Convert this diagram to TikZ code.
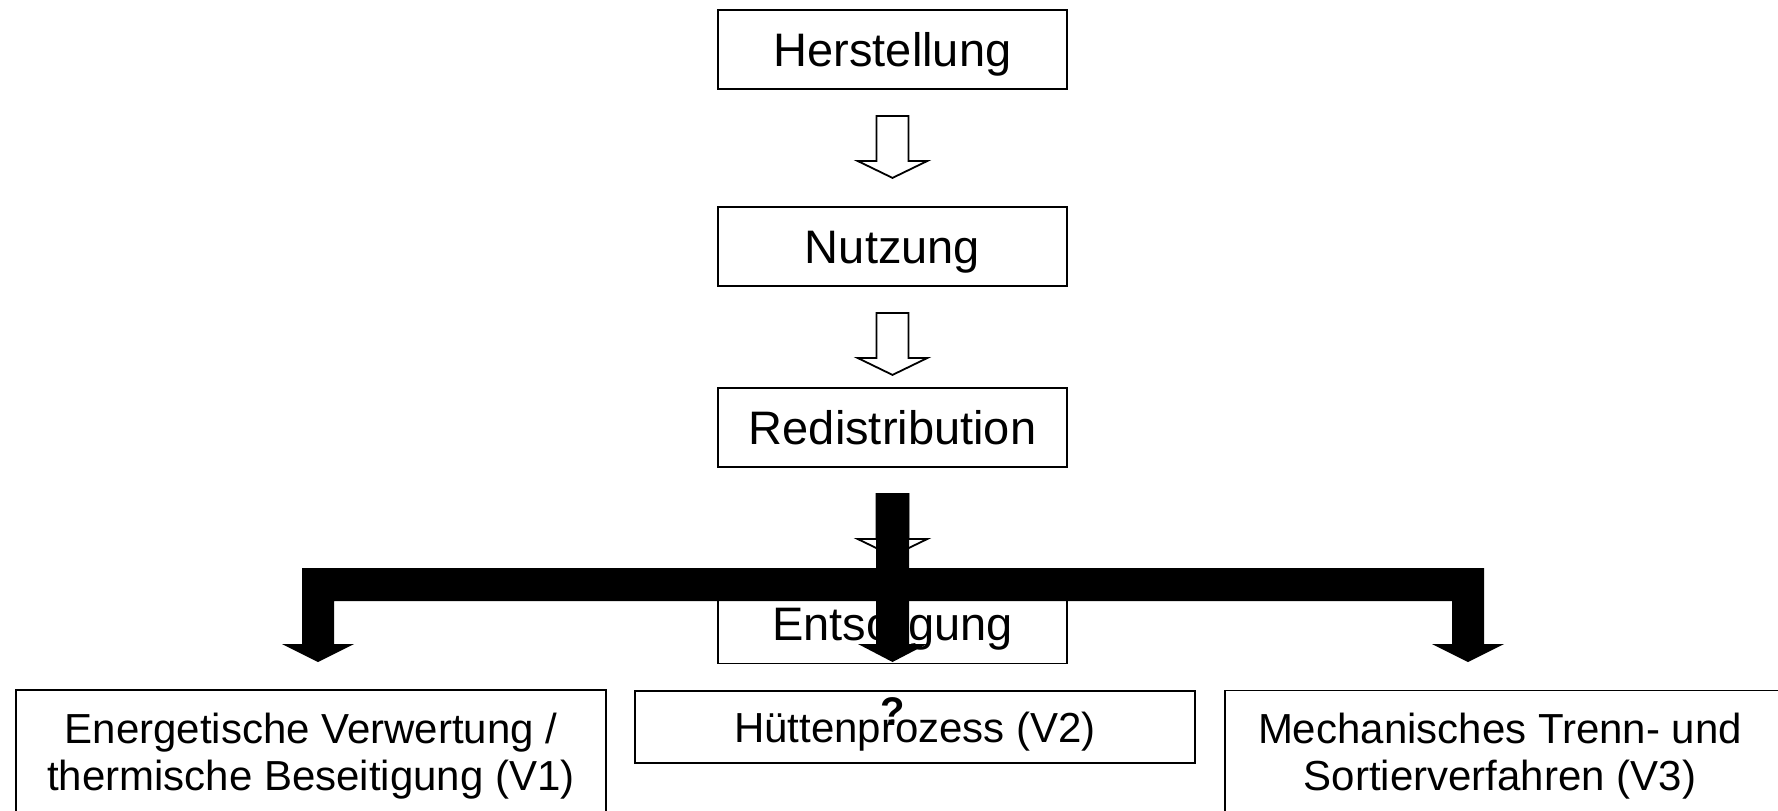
\documentclass[tikz,border=0pt]{standalone}
\usepackage{fontspec}
\setmainfont{Liberation Sans}
\usetikzlibrary{calc}
\tikzset{
  topbox/.style={draw, line width=0.9pt, fill=white, minimum width=174.5pt, minimum height=39.5pt,
    inner sep=0pt, text height=16.8pt, text depth=0pt, font=\fontsize{23.5pt}{28pt}\selectfont},
  plainbox/.style={draw, line width=0.9pt, fill=white, inner sep=0pt},
  bottext/.style={anchor=base, inner sep=0pt, font=\fontsize{21pt}{25pt}\selectfont},
  hollow/.style={draw, line width=0.9pt, fill=white, line join=miter},
  solidarrow/.style={fill=black, draw=none},
}
\newcommand\hollowdown[1]{%
  \draw[hollow] ($(#1.south)+(-16,26)$) -- ++(32,0) -- ++(0,45) -- ++(19,0)
    -- ++(-35,17) -- ++(-35,-17) -- ++(19,0) -- cycle;}
\begin{document}
\begin{tikzpicture}[x=0.5pt, y=-0.5pt]
\useasboundingbox (0,0) rectangle (1778,810);
\clip (0,0) rectangle (1778,810);

% top chain
\node[topbox] (her) at (892.5,49.5) {Herstellung};
\node[topbox] (nut) at (892.5,246.5) {Nutzung};
\node[topbox] (red) at (892.5,427.5) {Redistribution};
\node[topbox] (ent) at (892.5,624) {Entsorgung};

% bottom boxes
\node[plainbox, minimum width=295pt, minimum height=70pt] (v1) at (311,760) {};
\node[bottext] (v1a) at (311,743) {Energetische Verwertung /};
\node[bottext] (v1b) at (311,790) {thermische Beseitigung (V1)};

\node[plainbox, minimum width=280pt, minimum height=36pt, text height=15pt, text depth=0pt,
  font=\fontsize{21pt}{25pt}\selectfont] (v2) at (915,727) {Hüttenprozess (V2)};

\node[plainbox, minimum width=282.5pt, minimum height=70pt] (v3) at (1507.5,760.5) {};
\node[bottext] (v3a) at (1500,743) {Mechanisches Trenn- und};
\node[bottext] (v3b) at (1500,790) {Sortierverfahren (V3)};

% hollow arrows
\hollowdown{her}
\hollowdown{nut}
\hollowdown{red}

% solid arrows
\fill[solidarrow] (876,493) -- (909,493) -- (909,644) -- (927,644) -- (892.5,662)
  -- (858,644) -- (876,644) -- cycle;
\fill[solidarrow] (302,568) -- (1484,568) -- (1484,644) -- (1504,644) -- (1468,662)
  -- (1432,644) -- (1452,644) -- (1452,601) -- (334,601) -- (334,644) -- (354,644)
  -- (318,662) -- (282,644) -- (302,644) -- cycle;

% question mark
\node[anchor=base, inner sep=0pt, font=\fontsize{20pt}{24pt}\selectfont\bfseries] (q) at (893,725) {?};
\end{tikzpicture}
\end{document}
